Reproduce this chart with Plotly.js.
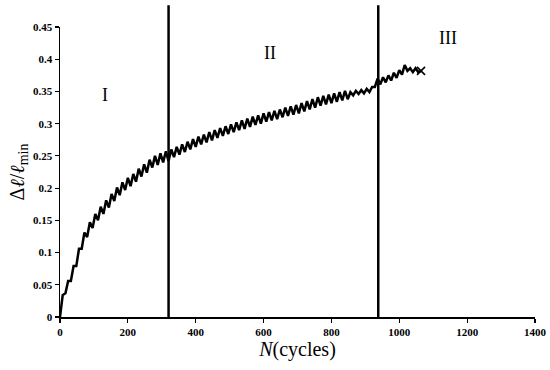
<!DOCTYPE html>
<html>
<head>
<meta charset="utf-8">
<script src="https://cdn.plot.ly/plotly-3.0.1.min.js"></script>
<style>html,body{margin:0;padding:0;background:#fff;}#chart{width:550px;height:370px;}</style>
</head>
<body>
<div id="chart"></div>
<script>
// cycles N
var cycles = [0,8,16,24,32,40,48,56,64,72,80,88,96,104,112,120,128,136,144,152,160,168,176,184,192,200,
208,216,224,232,240,248,256,264,272,280,288,296,304,312,320,328,336,344,352,360,368,376,384,392,400,
408,416,424,432,440,448,456,464,472,480,488,496,504,512,520,528,536,544,552,560,568,576,584,592,600,
608,616,624,632,640,648,656,664,672,680,688,696,704,712,720,728,736,744,752,760,768,776,784,792,800,
808,816,824,832,840,848,856,864,872,880,888,896,904,912,920,928,936,944,952,960,968,976,984,992,1000,
1008,1016,1024,1032,1040,1048,1056,1064];
// strain Δℓ/ℓmin
var strain = [0,0.034,0.037,0.056,0.056,0.079,0.079,0.106,0.106,0.131,0.124,0.147,0.138,0.16,0.15,0.171,
0.16,0.181,0.17,0.191,0.18,0.201,0.189,0.209,0.197,0.216,0.203,0.222,0.21,0.23,0.218,0.237,0.224,0.244,
0.232,0.25,0.236,0.254,0.24,0.257,0.242,0.26,0.248,0.264,0.252,0.268,0.256,0.272,0.26,0.276,0.264,
0.28,0.268,0.283,0.271,0.287,0.274,0.29,0.278,0.293,0.281,0.296,0.284,0.299,0.287,0.302,0.29,0.305,0.292,
0.308,0.295,0.311,0.298,0.313,0.3,0.316,0.303,0.318,0.305,0.32,0.307,0.322,0.31,0.325,0.312,0.327,0.314,
0.329,0.316,0.332,0.319,0.335,0.322,0.338,0.325,0.341,0.328,0.343,0.33,0.345,0.332,0.347,0.334,0.349,0.336,
0.351,0.338,0.349,0.344,0.351,0.346,0.352,0.347,0.354,0.349,0.357,0.357,0.37,0.361,0.372,0.364,0.375,0.367,
0.379,0.371,0.383,0.376,0.391,0.382,0.386,0.38,0.386,0.38,0.382];
// stage boundaries
var boundaries = [320, 938];
// stage labels
var stageLabels = ["I", "II", "III"];
var stageX = [133, 620, 1143];
var stageY = [0.344, 0.41, 0.433];

var xTicks = [0,200,400,600,800,1000,1200,1400];
var yTicks = [0,0.05,0.1,0.15,0.2,0.25,0.3,0.35,0.4,0.45];

var serif = "'Liberation Serif', 'Times New Roman', serif";

var traces = [
  {x: cycles, y: strain, type: "scatter", mode: "lines",
   line: {color: "#000", width: 2.5}, hoverinfo: "skip"},
  {x: [cycles[cycles.length-1]], y: [strain[strain.length-1]], type: "scatter", mode: "markers",
   marker: {symbol: "x-thin", size: 8, line: {color: "#000", width: 1.6}}, hoverinfo: "skip"}
];

var shapes = boundaries.map(function(b){
  return {type: "line", xref: "x", yref: "paper", x0: b, x1: b, y0: 0, y1: 1.075,
          line: {color: "#000", width: 2.5}};
});

var annotations = stageLabels.map(function(t, i){
  return {x: stageX[i], y: stageY[i], xref: "x", yref: "y", text: t, showarrow: false,
          font: {family: serif, size: 18, color: "#000"}};
});

var layout = {
  width: 550, height: 370,
  margin: {l: 60, r: 15, t: 27, b: 53},
  paper_bgcolor: "#fff", plot_bgcolor: "#fff",
  showlegend: false,
  font: {family: serif, color: "#000"},
  xaxis: {range: [0, 1400], tickvals: xTicks, ticktext: xTicks.map(String),
          showgrid: false, zeroline: false, showline: true, linecolor: "#000", linewidth: 1.5,
          ticks: "outside", ticklen: 4, tickcolor: "#000", tickwidth: 1.2,
          tickfont: {family: serif, size: 11, color: "#000", weight: "bold"},
          title: {text: "<i>N</i>(cycles)", font: {family: serif, size: 20, color: "#000"}, standoff: 5}},
  yaxis: {range: [0, 0.45], tickvals: yTicks, ticktext: yTicks.map(String),
          showgrid: false, zeroline: false, showline: true, linecolor: "#000", linewidth: 1.5,
          ticks: "outside", ticklen: 4, tickcolor: "#000", tickwidth: 1.2,
          tickfont: {family: serif, size: 11, color: "#000", weight: "bold"},
          title: {text: "Δ<i>ℓ</i>/<i>ℓ</i><sub>min</sub>", font: {family: serif, size: 20, color: "#000"}, standoff: 3}},
  shapes: shapes,
  annotations: annotations
};

Plotly.newPlot("chart", traces, layout, {staticPlot: true, displayModeBar: false});
</script>
</body>
</html>
